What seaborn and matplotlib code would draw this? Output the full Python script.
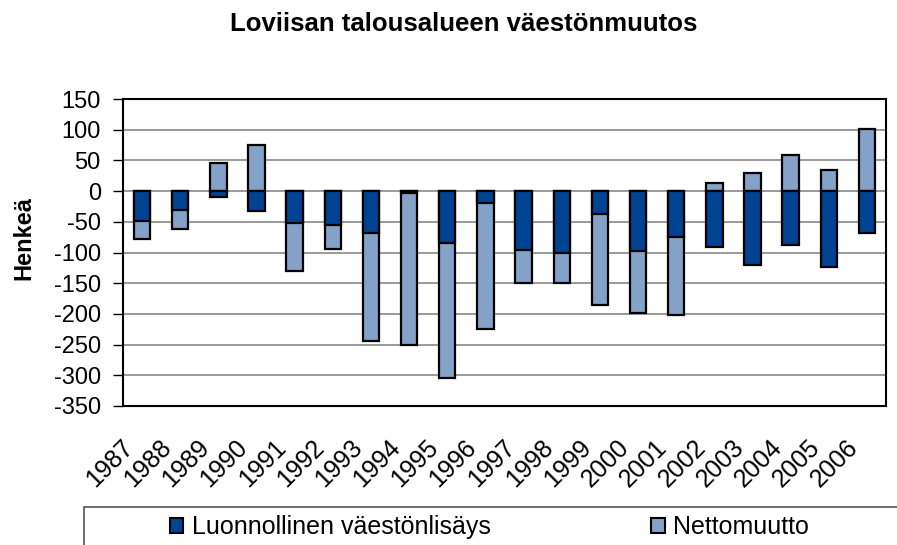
import matplotlib
matplotlib.use("Agg")
import matplotlib.pyplot as plt
from matplotlib.patches import Patch, Rectangle
import numpy as np
import pandas as pd
import seaborn as sns


YEARS = [str(y) for y in range(1987, 2007)]
NATURAL = [-49, -30, -10, -32, -52, -55, -68, -3, -84, -19,
           -96, -100, -38, -97, -75, -91, -121, -88, -123, -68]
NET_MIGRATION = [-29, -32, 45, 75, -78, -39, -176, -247, -221, -205,
                 -53, -50, -147, -101, -126, 13, 29, 58, 35, 101]
SERIES_LABELS = ["Luonnollinen väestönlisäys", "Nettomuutto"]
Y_TICKS = list(range(-350, 151, 50))

DARK = "#004393"
LIGHT = "#84A1C7"
W, H = 897, 545


def main() -> None:
  sns.set_theme(style="white")
  plt.rcParams["font.family"] = ["Liberation Sans", "DejaVu Sans"]
  plt.rcParams.update({"text.color": "black", "axes.labelcolor": "black",
                       "xtick.color": "black", "ytick.color": "black"})

  df = pd.DataFrame({"year": YEARS, "natural": NATURAL, "net": NET_MIGRATION})
  # Excel-style stacking: same-sign parts stack, opposite signs start from zero
  same_sign = np.sign(df["natural"]) == np.sign(df["net"])
  df["net_end"] = np.where(same_sign, df["natural"] + df["net"], df["net"])

  fig = plt.figure(figsize=(W / 100, H / 100), dpi=100)
  ax = fig.add_axes([123 / W, 1 - 406 / H, (886 - 123) / W, (406 - 99) / H])

  bar_kw = dict(edgecolor="black", linewidth=1.6, width=0.43, saturation=1, ax=ax)
  sns.barplot(data=df, x="year", y="net_end", color=LIGHT, **bar_kw)
  sns.barplot(data=df, x="year", y="natural", color=DARK, **bar_kw)

  ax.set_ylim(-350, 150)
  ax.set_yticks(Y_TICKS)
  ax.set_yticklabels([str(t) for t in Y_TICKS], fontsize=17)
  ax.set_xlim(-0.5, len(YEARS) - 0.5)

  # tick marks at category boundaries; labels on invisible minor ticks,
  # nudged left so the rotated text ends just before each bar
  ax.set_xticks(np.arange(-0.5, len(YEARS)), labels=[""] * (len(YEARS) + 1))
  ax.set_xticks(np.arange(len(YEARS)) - 0.33, minor=True)
  ax.set_xticklabels(YEARS, minor=True, fontsize=18, rotation=45,
                     ha="right", va="center", rotation_mode="anchor")
  ax.tick_params(axis="x", which="major", direction="out", length=7, width=1, color="black")
  ax.tick_params(axis="x", which="minor", length=0, pad=27)
  ax.tick_params(axis="y", direction="out", length=7, width=1, color="black", pad=9, left=True)

  ax.set_axisbelow(True)
  ax.yaxis.grid(True, color="#7f7f7f", linewidth=1.1)
  ax.xaxis.grid(False)
  for side in ["left", "right", "top", "bottom"]:
    ax.spines[side].set_visible(True)
    ax.spines[side].set_color("black")
    ax.spines[side].set_linewidth(1.5)

  ax.set_xlabel("")
  ax.set_ylabel("Henkeä", fontsize=17, fontweight="bold")
  ax.yaxis.set_label_coords((35 - 123) / (886 - 123), (406 - 238) / (406 - 99))

  fig.text(464 / W, 1 - 24 / H, "Loviisan talousalueen väestönmuutos",
           fontsize=18.5, fontweight="bold", ha="center", va="center")

  # legend box, cut off by the figure edge as in the original
  fig.patches.append(Rectangle((84 / W, -0.1), 1.0, (545 - 507) / H + 0.1,
                               transform=fig.transFigure, fill=False,
                               edgecolor="#555555", linewidth=1.2))
  handles = [Patch(facecolor=DARK, edgecolor="black", linewidth=1.5),
             Patch(facecolor=LIGHT, edgecolor="black", linewidth=1.5)]
  fig.legend(handles, SERIES_LABELS, loc="center left",
             bbox_to_anchor=(157 / W, 1 - 527 / H), ncol=2, frameon=False,
             fontsize=18, handlelength=0.55, handleheight=0.55,
             handletextpad=0.35, columnspacing=6.4, borderpad=0)

  fig.savefig("out.png", dpi=100)
  plt.close(fig)


if __name__ == "__main__":
  main()
